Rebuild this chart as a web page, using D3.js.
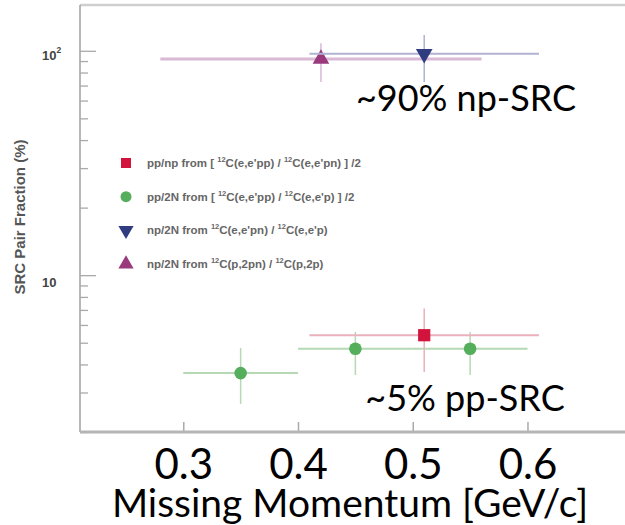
<!DOCTYPE html>
<html><head><meta charset="utf-8">
<script src="https://cdn.jsdelivr.net/npm/d3@7"></script>
<style>body{margin:0;background:#fff;overflow:hidden}</style>
</head><body>
<script>
// ---- data ----
const xTickValues = [0.3, 0.4, 0.5, 0.6];
const xTickLabels = ["0.3", "0.4", "0.5", "0.6"];
const yMajorTicks = [10, 100];
const yMinorTicks = [2, 3, 4, 5, 6, 7, 8, 9, 20, 30, 40, 50, 60, 70, 80, 90];

// pp/np
const ppnpX = [0.51], ppnpY = [5.4];
const ppnpXLo = [0.41], ppnpXHi = [0.61], ppnpYLo = [3.7], ppnpYHi = [7.1];
// pp/2N
const pp2NX = [0.35, 0.45, 0.55], pp2NY = [3.66, 4.7, 4.7];
const pp2NXLo = [0.30, 0.40, 0.50], pp2NXHi = [0.40, 0.50, 0.60];
const pp2NYLo = [2.67, 3.59, 3.59], pp2NYHi = [4.74, 5.58, 5.58];
// np/2N (e,e'pn)
const np2NeX = [0.51], np2NeY = [97];
const np2NeXLo = [0.41], np2NeXHi = [0.61], np2NeYLo = [72.6], np2NeYHi = [117.6];
// np/2N (p,2pn)
const np2NpX = [0.42], np2NpY = [92];
const np2NpXLo = [0.28], np2NpXHi = [0.56], np2NpYLo = [72.6], np2NpYHi = [108];

const xTitle = "Missing Momentum [GeV/c]";
const yTitle = "SRC Pair Fraction (%)";
const note1 = "~90% np-SRC";
const note2 = "~5% pp-SRC";

// ---- chart ----
const W = 625, H = 525;
const svg = d3.select("body").append("svg").attr("width", W).attr("height", H);
const x = d3.scaleLinear().domain([0.21, 0.685]).range([80, 625]);
const y = d3.scaleLog().domain([2, 160]).range([432, 5]);

// frame
svg.append("line").attr("x1", 80).attr("x2", 625).attr("y1", 5).attr("y2", 5)
  .attr("stroke", "#cfcfcf").attr("stroke-width", 2.5);
svg.append("line").attr("x1", 80).attr("x2", 80).attr("y1", 5).attr("y2", 432)
  .attr("stroke", "#a0a0a0").attr("stroke-width", 1.5);

// y axis ticks
const yMajor = svg.append("g").attr("transform", "translate(80,0)")
  .call(d3.axisRight(y).tickValues(yMajorTicks).tickSize(16).tickFormat(""));
const yMinor = svg.append("g").attr("transform", "translate(80,0)")
  .call(d3.axisRight(y).tickValues(yMinorTicks).tickSize(8).tickFormat(""));
[yMajor, yMinor].forEach(g => {
  g.select(".domain").remove();
  g.selectAll("line").attr("stroke", "#aaa").attr("stroke-width", 1.3);
});

// y tick labels
const yl = svg.append("g").attr("font-family", "Liberation Sans, Arial, sans-serif")
  .attr("font-weight", "bold").attr("fill", "#444").attr("font-size", 13);
yl.append("text").attr("x", 42).attr("y", y(10) + 12).text("10");
const t100 = yl.append("text").attr("x", 42).attr("y", y(100) + 9);
t100.append("tspan").text("10");
t100.append("tspan").attr("font-size", 8.5).attr("dy", -7).text("2");

// y title
svg.append("text")
  .attr("transform", `translate(25,${217}) rotate(-90)`)
  .attr("text-anchor", "middle")
  .attr("font-family", "Liberation Sans, Arial, sans-serif")
  .attr("font-weight", "bold").attr("font-size", 15).attr("fill", "#555")
  .text(yTitle);

// x axis
const xa = svg.append("g").attr("transform", "translate(0,432)")
  .call(d3.axisBottom(x).tickValues(xTickValues).tickSize(-10)
    .tickFormat((d, i) => xTickLabels[i]));
xa.select(".domain").remove();
xa.selectAll("line").attr("stroke", "#aaa").attr("stroke-width", 1.5);
xa.selectAll("text").attr("y", 47).attr("dy", 0)
  .attr("font-family", "Lato, sans-serif").attr("font-size", 42).attr("fill", "#000");
svg.append("line").attr("x1", 80).attr("x2", 625).attr("y1", 432).attr("y2", 432)
  .attr("stroke", "#b5b5b5").attr("stroke-width", 3);

// x title
svg.append("text").attr("x", 350).attr("y", 517).attr("text-anchor", "middle")
  .attr("font-family", "Lato, sans-serif").attr("font-size", 39).attr("fill", "#000")
  .text(xTitle);

// error bars + markers
function series(X, Y, XLo, XHi, YLo, YHi, barColor, hWidth, vWidth) {
  const g = svg.append("g");
  X.forEach((xv, i) => {
    g.append("line").attr("x1", x(XLo[i])).attr("x2", x(XHi[i]))
      .attr("y1", y(Y[i])).attr("y2", y(Y[i]))
      .attr("stroke", barColor).attr("stroke-width", hWidth);
    g.append("line").attr("x1", x(xv)).attr("x2", x(xv))
      .attr("y1", y(YLo[i])).attr("y2", y(YHi[i]))
      .attr("stroke", barColor).attr("stroke-width", vWidth);
  });
  return g;
}
function markers(g, X, Y, sym, size, color, rot) {
  X.forEach((xv, i) => {
    g.append("path").attr("d", d3.symbol().type(sym).size(size)())
      .attr("transform", `translate(${x(xv)},${y(Y[i])}) rotate(${rot || 0})`)
      .attr("fill", color);
  });
}
const cRed = "#d2143c", cGreen = "#55ae5c", cBlue = "#303c80", cMag = "#9a3a7c";

const gMag = series(np2NpX, np2NpY, np2NpXLo, np2NpXHi, np2NpYLo, np2NpYHi, "#d9b9d6", 3, 1.5);
const gBlue = series(np2NeX, np2NeY, np2NeXLo, np2NeXHi, np2NeYLo, np2NeYHi, "#b0b2d2", 2, 1.5);
const gGreen = series(pp2NX, pp2NY, pp2NXLo, pp2NXHi, pp2NYLo, pp2NYHi, "#b5d8b5", 2, 1.5);
const gRed = series(ppnpX, ppnpY, ppnpXLo, ppnpXHi, ppnpYLo, ppnpYHi, "#eab0bc", 2, 1.5);
markers(gMag, np2NpX, np2NpY, d3.symbolTriangle, 120, cMag, 0);
markers(gBlue, np2NeX, np2NeY, d3.symbolTriangle, 120, cBlue, 180);
markers(gGreen, pp2NX, pp2NY, d3.symbolCircle, 125, cGreen, 0);
markers(gRed, ppnpX, ppnpY, d3.symbolSquare, 150, cRed, 0);

// legend
const legendRows = [
  {sym: d3.symbolSquare, size: 100, color: cRed, rot: 0,
   parts: [["pp/np from [ ",0],["12",1],["C(e,e'pp) / ",0],["12",1],["C(e,e'pn) ] /2",0]]},
  {sym: d3.symbolCircle, size: 95, color: cGreen, rot: 0,
   parts: [["pp/2N from [ ",0],["12",1],["C(e,e'pp) / ",0],["12",1],["C(e,e'p) ] /2",0]]},
  {sym: d3.symbolTriangle, size: 100, color: cBlue, rot: 180,
   parts: [["np/2N from ",0],["12",1],["C(e,e'pn) / ",0],["12",1],["C(e,e'p)",0]]},
  {sym: d3.symbolTriangle, size: 100, color: cMag, rot: 0,
   parts: [["np/2N from ",0],["12",1],["C(p,2pn) / ",0],["12",1],["C(p,2p)",0]]}
];
const legY = d3.scaleLinear().domain([0, 3]).range([163, 264]);
const lg = svg.append("g");
legendRows.forEach((r, i) => {
  lg.append("path").attr("d", d3.symbol().type(r.sym).size(r.size)())
    .attr("transform", `translate(126,${legY(i)}) rotate(${r.rot})`).attr("fill", r.color);
  const t = lg.append("text").attr("x", 147).attr("y", legY(i) + 4)
    .attr("font-family", "Liberation Sans, Arial, sans-serif").attr("font-weight", "bold")
    .attr("font-size", 11.5).attr("fill", "#666");
  let sup = false;
  r.parts.forEach(p => {
    const ts = t.append("tspan").text(p[0]);
    if (p[1]) { ts.attr("font-size", 7.5).attr("dy", -5); sup = true; }
    else if (sup) { ts.attr("dy", 5); sup = false; }
  });
});

// annotations
svg.append("text").attr("x", 466).attr("y", 111).attr("text-anchor", "middle")
  .attr("font-family", "Lato, sans-serif").attr("font-size", 36).attr("fill", "#000").text(note1);
svg.append("text").attr("x", 465).attr("y", 411).attr("text-anchor", "middle")
  .attr("font-family", "Lato, sans-serif").attr("font-size", 36).attr("fill", "#000").text(note2);
</script>
</body></html>
